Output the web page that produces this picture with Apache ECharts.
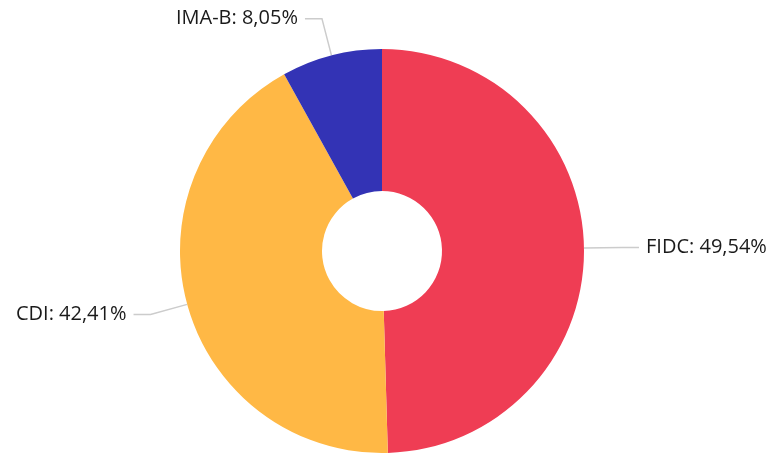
<!DOCTYPE html>
<html>
<head>
<meta charset="utf-8">
<script src="https://cdn.jsdelivr.net/npm/echarts@6/dist/echarts.min.js"></script>
<style>
  html, body { margin: 0; padding: 0; background: #fff; }
  #chart { width: 774px; height: 453px; }
</style>
</head>
<body>
<div id="chart"></div>
<script>
const categories = ['FIDC', 'CDI', 'IMA-B'];
const shares = [49.54, 42.41, 8.05];
const colors = ['#ef3d54', '#ffb845', '#3333b5'];

const chart = echarts.init(document.getElementById('chart'));

const fmt = (v) => v.toFixed(2).replace('.', ',');

chart.setOption({
  animation: false,
  color: colors,
  series: [
    {
      type: 'pie',
      center: [382, 251],
      radius: [60, 202],
      startAngle: 90,
      clockwise: true,
      data: categories.map((name, i) => ({ name, value: shares[i] })),
      itemStyle: { borderWidth: 0 },
      label: {
        show: true,
        formatter: (p) => p.name + ': ' + fmt(p.value) + '%',
        fontFamily: 'Open Sans',
        fontSize: 20,
        color: '#1a1a1a',
        overflow: 'none',
        distanceToLabelLine: 7
      },
      labelLine: {
        show: true,
        length: 38,
        length2: 17,
        lineStyle: { color: '#cccccc', width: 1.5 }
      },
      emphasis: { disabled: true }
    }
  ]
});
</script>
</body>
</html>
